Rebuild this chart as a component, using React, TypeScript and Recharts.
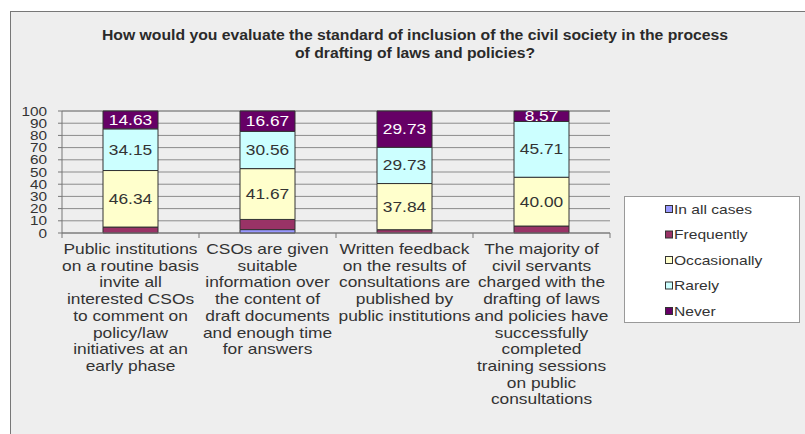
import React from 'react';
import { BarChart, Bar, XAxis, YAxis, CartesianGrid, LabelList } from 'recharts';

const categoryLines = [
  ['Public institutions', 'on a routine basis', 'invite all', 'interested CSOs', 'to comment on', 'policy/law', 'initiatives at an', 'early phase'],
  ['CSOs are given', 'suitable', 'information over', 'the content of', 'draft documents', 'and enough time', 'for answers'],
  ['Written feedback', 'on the results of', 'consultations are', 'published by', 'public institutions'],
  ['The majority of', 'civil servants', 'charged with the', 'drafting of laws', 'and policies have', 'successfully', 'completed', 'training sessions', 'on public', 'consultations'],
];

const inAllCases = [0, 2.78, 0, 0];
const frequently = [4.88, 8.33, 2.7, 5.71];
const occasionally = [46.34, 41.67, 37.84, 40.0];
const rarely = [34.15, 30.56, 29.73, 45.71];
const never = [14.63, 16.67, 29.73, 8.57];

const yTicks = [0, 10, 20, 30, 40, 50, 60, 70, 80, 90, 100];

const titleLines = [
  'How would you evaluate the standard of inclusion of the civil society in the process',
  'of drafting of laws and policies?',
];

const series = [
  { key: 'inAllCases', name: 'In all cases', color: '#9999ff', label: false, labelColor: '#333' },
  { key: 'frequently', name: 'Frequently', color: '#993366', label: false, labelColor: '#333' },
  { key: 'occasionally', name: 'Occasionally', color: '#ffffcc', label: true, labelColor: '#333' },
  { key: 'rarely', name: 'Rarely', color: '#ccffff', label: true, labelColor: '#333' },
  { key: 'never', name: 'Never', color: '#660066', label: true, labelColor: '#fff' },
];

const data = categoryLines.map((lines, i) => ({
  name: lines.join(' '),
  lines,
  inAllCases: inAllCases[i],
  frequently: frequently[i],
  occasionally: occasionally[i],
  rarely: rarely[i],
  never: never[i],
}));

const FONT = 'Liberation Sans, Arial, sans-serif';
const STRETCH = 1.24;
const AXIS_Y = 233;
const HALF_BAND = 68.5;

// the original image is stretched sideways, so text gets a horizontal scale
const WideText = ({ x, y, children, fill = '#333', size = 14, anchor = 'middle', sx = STRETCH }: any) => (
  <g transform={`translate(${x},${y}) scale(${sx},1)`}>
    <text x={0} y={0} textAnchor={anchor} fontSize={size} fill={fill} fontFamily={FONT}>
      {children}
    </text>
  </g>
);

const XTick = ({ x, index }: any) => {
  const lines: string[] = data[index]?.lines || [];
  return (
    <g>
      <line x1={x - HALF_BAND} x2={x - HALF_BAND} y1={AXIS_Y} y2={AXIS_Y + 5} stroke="#777" />
      {index === data.length - 1 && (
        <line x1={x + HALF_BAND} x2={x + HALF_BAND} y1={AXIS_Y} y2={AXIS_Y + 5} stroke="#777" />
      )}
      {lines.map((l, i) => (
        <WideText key={i} x={x} y={254 + i * 16.7} size={14}>
          {l}
        </WideText>
      ))}
    </g>
  );
};

const YTick = ({ x, y, payload }: any) => (
  <WideText x={x - 9} y={y + 4.5} size={12} anchor="end" sx={1.28}>
    {payload.value}
  </WideText>
);

const makeLabel = (color: string) => (props: any) => {
  const { x, y, width, height, value } = props;
  if (!value) return null;
  return (
    <WideText x={x + width / 2} y={y + height / 2 + 5} size={14} fill={color}>
      {Number(value).toFixed(2)}
    </WideText>
  );
};

const LegendBox = () => (
  <svg width={176} height={127} style={{ position: 'absolute', left: 624, top: 196 }}>
    <rect x={0.5} y={0.5} width={175} height={126} fill="#fff" stroke="#999" />
    {series.map((s, i) => (
      <g key={s.key}>
        <rect x={41.5} y={9.5 + i * 25.5} width={7} height={7} fill={s.color} stroke="#333" />
        <WideText x={50} y={17.5 + i * 25.5} size={13} anchor="start" sx={1.2}>
          {s.name}
        </WideText>
      </g>
    ))}
  </svg>
);

export default function App() {
  return (
    <div style={{ position: 'absolute', left: 0, top: 0, width: 805, height: 434, background: '#fff', overflow: 'hidden' }}>
      <div
        style={{
          position: 'absolute',
          left: 10,
          top: 11,
          width: 800,
          height: 430,
          background: '#eeeeee',
          borderLeft: '1px solid #777',
          borderTop: '1px solid #777',
        }}
      />
      <div style={{ position: 'absolute', left: 0, top: 0 }}>
        <BarChart
          width={805}
          height={434}
          data={data}
          margin={{ top: 111, right: 195, bottom: 0, left: 0 }}
          barSize={55}
        >
          <CartesianGrid horizontal vertical={false} stroke="#8c8c8c" />
          <XAxis
            dataKey="name"
            height={201}
            interval={0}
            tickLine={false}
            axisLine={{ stroke: '#777' }}
            tick={<XTick />}
          />
          <YAxis
            width={62}
            domain={[0, 100]}
            ticks={yTicks}
            interval={0}
            tickSize={4}
            tickLine={{ stroke: '#777' }}
            axisLine={{ stroke: '#777' }}
            tick={<YTick />}
          />
          {series.map((s) => (
            <Bar
              key={s.key}
              dataKey={s.key}
              name={s.name}
              stackId="a"
              fill={s.color}
              stroke="#333"
              strokeWidth={1}
              isAnimationActive={false}
            >
              {s.label && <LabelList dataKey={s.key} content={makeLabel(s.labelColor)} />}
            </Bar>
          ))}
        </BarChart>
      </div>
      <LegendBox />
      <svg width={805} height={80} style={{ position: 'absolute', left: 0, top: 0 }}>
        <text x={415} y={40} textAnchor="middle" fontSize={14} fontWeight="bold" fill="#2a2a2a" fontFamily={FONT}
          textLength={626} lengthAdjust="spacingAndGlyphs">
          {titleLines[0]}
        </text>
        <text x={415} y={58} textAnchor="middle" fontSize={14} fontWeight="bold" fill="#2a2a2a" fontFamily={FONT}
          textLength={240} lengthAdjust="spacingAndGlyphs">
          {titleLines[1]}
        </text>
      </svg>
    </div>
  );
}
